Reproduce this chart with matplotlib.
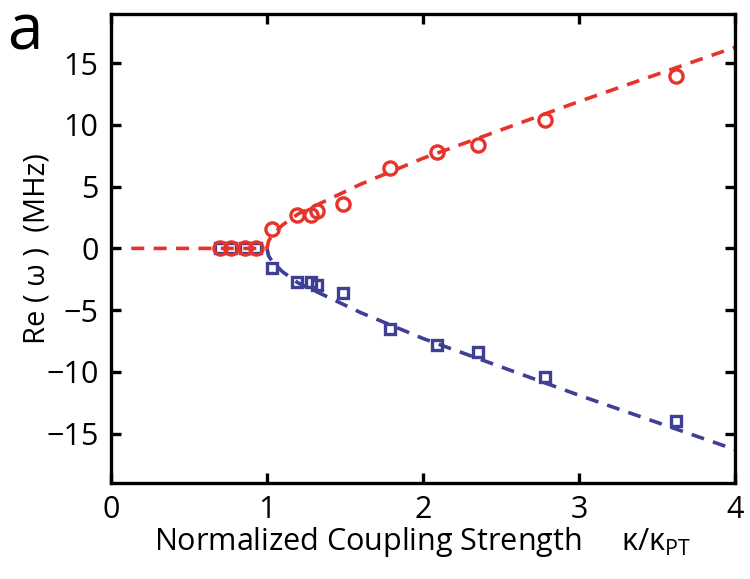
import numpy as np
import matplotlib.pyplot as plt

plt.rcParams['font.family'] = ['Open Sans', 'DejaVu Sans']
plt.rcParams['mathtext.fontset'] = 'custom'
plt.rcParams['mathtext.rm'] = 'Open Sans'
plt.rcParams['mathtext.it'] = 'Open Sans'

# measured points (normalized coupling, Re(omega) in MHz)
k_meas = [0.70, 0.77, 0.86, 0.93, 1.03, 1.19, 1.28, 1.32, 1.49, 1.79, 2.09, 2.35, 2.78, 3.62]
w_up = [0.0, 0.0, 0.0, 0.0, 1.6, 2.7, 2.7, 3.0, 3.6, 6.5, 7.8, 8.4, 10.4, 14.0]
w_down = [0.0, 0.0, 0.0, 0.0, -1.6, -2.7, -2.7, -3.0, -3.6, -6.5, -7.8, -8.4, -10.4, -14.0]

# theory curve
k_th = [0.13, 0.5, 1.0, 1.01, 1.03, 1.06, 1.1, 1.2, 1.4, 1.6, 2.0, 2.5, 3.0, 3.5, 4.0]
w_th_up = [0.0, 0.0, 0.0, 0.6, 1.0, 1.4, 1.9, 2.8, 4.0, 5.2, 7.3, 9.6, 11.9, 14.1, 16.3]
k_th_dn = [1.0, 1.01, 1.03, 1.06, 1.1, 1.2, 1.4, 1.6, 2.0, 2.5, 3.0, 3.5, 4.0]
w_th_dn = [0.0, -0.6, -1.0, -1.4, -1.9, -2.8, -4.0, -5.2, -7.3, -9.6, -11.9, -14.1, -16.3]

red = '#e8332b'
blue = '#3f3f96'

fig = plt.figure(figsize=(7.5, 5.79), dpi=100)
ax = fig.add_axes([0.148, 0.166, 0.832, 0.81])

ax.plot(k_th_dn, w_th_dn, '--', color=blue, lw=2.6, dashes=(3.6, 2.6))
ax.plot(k_th, w_th_up, '--', color=red, lw=2.6, dashes=(3.6, 2.6))
ax.plot(k_meas, w_down, 's', mfc='none', mec=blue, ms=7.5, mew=2.4)
ax.plot(k_meas, w_up, 'o', mfc='none', mec=red, ms=9.5, mew=2.4)

ax.set_xlim(0, 4)
ax.set_ylim(-19, 19)
ax.set_xticks([0, 1, 2, 3, 4])
ax.set_yticks([-15, -10, -5, 0, 5, 10, 15])
ax.set_yticklabels(['\u221215', '\u221210', '\u22125', '0', '5', '10', '15'])
ax.tick_params(direction='in', length=7, width=2.4, labelsize=22, top=True, right=True, pad=9)
for s in ax.spines.values():
    s.set_linewidth(2.4)

ax.set_xlabel('Normalized Coupling Strength     $\\kappa/\\kappa_{PT}$', fontsize=22, labelpad=0)
ax.set_ylabel('Re ( \u03c9 )  (MHz)', fontsize=21)
ax.yaxis.set_label_coords(-0.095, 0.5)

fig.text(0.010, 0.915, 'a', fontsize=46)

fig.savefig('out.png', dpi=100)
